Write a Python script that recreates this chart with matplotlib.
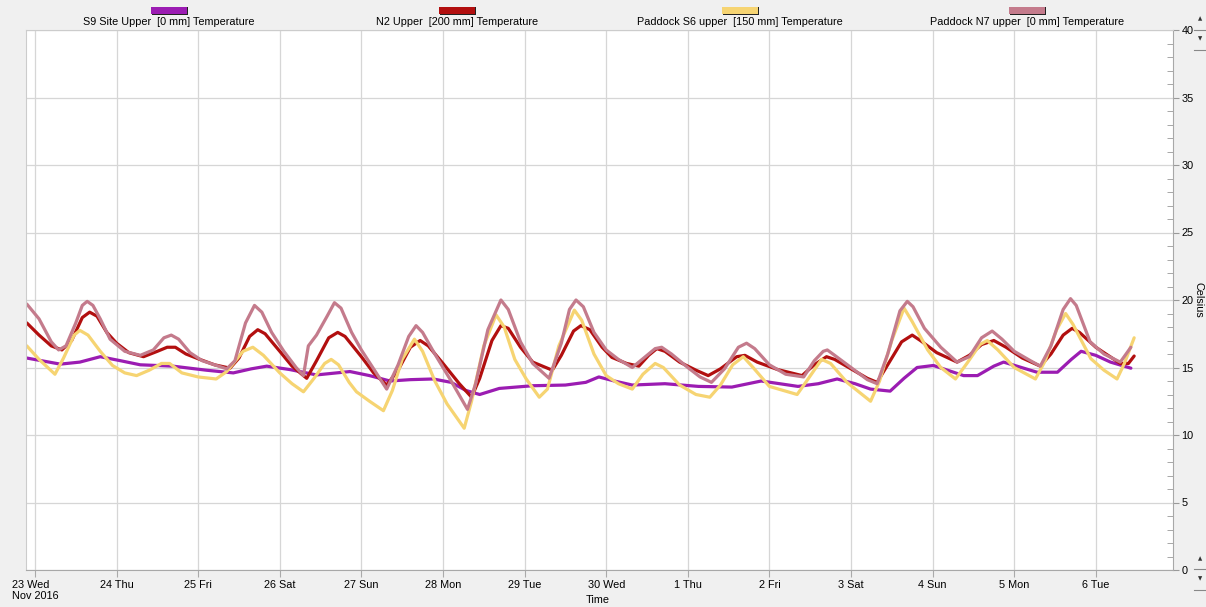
import matplotlib
matplotlib.use("Agg")
import matplotlib.pyplot as plt
from matplotlib.patches import Rectangle
from matplotlib.ticker import MultipleLocator

plt.rcParams['font.family'] = ['Liberation Sans', 'DejaVu Sans']

# days since 23 Nov 2016 00:00
s9_t = [-0.1, 0.31, 0.55, 0.80, 1.05, 1.29, 1.69, 2.10, 2.43, 2.65, 2.84, 3.12, 3.45,
        3.86, 4.1, 4.35, 4.6, 4.88, 5.1, 5.28, 5.45, 5.69, 6.10, 6.50, 6.75, 6.91,
        7.1, 7.32, 7.72, 8.13, 8.54, 8.90, 9.35, 9.6, 9.83, 10.05, 10.24, 10.48,
        10.65, 10.81, 11.01, 11.38, 11.55, 11.75, 11.87, 12.28, 12.53, 12.7, 12.82,
        13.0, 13.18, 13.43]
s9_v = [15.7, 15.25, 15.4, 15.8, 15.5, 15.2, 15.1, 14.8, 14.6, 14.9, 15.1, 14.85, 14.45,
        14.7, 14.4, 14.0, 14.1, 14.15, 13.9, 13.3, 13.0, 13.45, 13.65, 13.7, 13.9, 14.3,
        14.0, 13.7, 13.8, 13.6, 13.55, 14.0, 13.6, 13.8, 14.15, 13.8, 13.4, 13.25,
        14.2, 15.0, 15.15, 14.4, 14.4, 15.1, 15.4, 14.65, 14.65, 15.6, 16.2,
        15.9, 15.4, 14.95]

n2_t = [-0.1, 0.05, 0.2, 0.33, 0.45, 0.58, 0.67, 0.76, 0.88, 1.0, 1.15, 1.33, 1.5,
        1.62, 1.72, 1.85, 2.02, 2.2, 2.39, 2.5, 2.63, 2.73, 2.82, 3.0, 3.15, 3.33,
        3.45, 3.6, 3.71, 3.8, 4.0, 4.15, 4.31, 4.45, 4.6, 4.72, 4.82, 5.0, 5.2,
        5.35, 5.45, 5.6, 5.71, 5.8, 5.95, 6.1, 6.34, 6.45, 6.6, 6.69, 6.8, 6.95,
        7.07, 7.25, 7.40, 7.52, 7.62, 7.72, 7.9, 8.1, 8.25, 8.4, 8.6, 8.7, 8.85,
        9.1, 9.4, 9.55, 9.7, 9.8, 10.0, 10.2, 10.32, 10.45, 10.62, 10.75, 10.85,
        11.05, 11.30, 11.45, 11.6, 11.75, 11.9, 12.1, 12.32, 12.45, 12.6, 12.71,
        12.8, 13.0, 13.30, 13.4, 13.47]
n2_v = [18.3, 17.4, 16.6, 16.3, 17.0, 18.7, 19.1, 18.8, 17.6, 16.8, 16.1, 15.8, 16.2,
        16.5, 16.5, 16.0, 15.6, 15.2, 14.95, 15.7, 17.3, 17.8, 17.5, 16.2, 15.1, 14.2,
        15.5, 17.2, 17.6, 17.3, 15.8, 14.6, 13.7, 14.8, 16.5, 17.0, 16.6, 15.3, 13.8,
        12.8, 14.2, 17.0, 18.1, 17.9, 16.5, 15.4, 14.8, 15.9, 17.7, 18.1, 17.8, 16.5,
        15.75, 15.3, 15.1, 15.9, 16.4, 16.2, 15.4, 14.8, 14.4, 14.9, 15.8, 15.9, 15.4,
        14.85, 14.4, 15.2, 15.8, 15.6, 14.9, 14.2, 13.9, 15.2, 16.9, 17.4, 17.0,
        16.1, 15.4, 15.9, 16.7, 17.0, 16.5, 15.7, 15.1, 16.0, 17.4, 17.9,
        17.6, 16.5, 15.3, 15.3, 15.85]

s6_t = [-0.1, 0.05, 0.245, 0.35, 0.48, 0.55, 0.65, 0.8, 0.95, 1.1, 1.245, 1.4, 1.55,
        1.65, 1.8, 2.0, 2.22, 2.35, 2.55, 2.67, 2.8, 3.0, 3.15, 3.29, 3.42, 3.55,
        3.63, 3.72, 3.85, 3.94, 4.1, 4.27, 4.38, 4.5, 4.65, 4.75, 4.9, 5.05, 5.26,
        5.35, 5.5, 5.65, 5.75, 5.88, 6.02, 6.18, 6.28, 6.42, 6.61, 6.7, 6.85, 7.0,
        7.15, 7.32, 7.45, 7.60, 7.7, 7.9, 8.1, 8.27, 8.4, 8.55, 8.68, 8.8, 9.0,
        9.34, 9.48, 9.64, 9.75, 9.95, 10.24, 10.35, 10.5, 10.65, 10.75, 10.94,
        11.1, 11.28, 11.42, 11.58, 11.67, 11.8, 12.0, 12.26, 12.38, 12.52, 12.63,
        12.72, 12.94, 13.1, 13.26, 13.35, 13.47]
s6_v = [16.6, 15.6, 14.5, 15.7, 17.4, 17.75, 17.4, 16.2, 15.15, 14.6, 14.4, 14.8, 15.3,
        15.3, 14.6, 14.3, 14.15, 14.7, 16.2, 16.5, 15.9, 14.6, 13.8, 13.2, 14.2, 15.3,
        15.6, 15.2, 13.9, 13.2, 12.5, 11.8, 13.3, 15.6, 17.1, 16.2, 14.0, 12.3, 10.5,
        12.5, 16.6, 18.9, 18.0, 15.6, 14.15, 12.8, 13.4, 16.6, 19.25, 18.5, 16.0, 14.4,
        13.8, 13.4, 14.5, 15.3, 15.0, 13.7, 13.0, 12.8, 13.7, 15.2, 15.8, 15.0, 13.6,
        13.0, 14.2, 15.6, 15.3, 13.9, 12.5, 14.0, 17.0, 19.4, 18.4, 16.3,
        15.0, 14.15, 15.3, 16.7, 17.0, 16.3, 15.0, 14.15, 15.5, 17.8, 19.0,
        18.2, 15.65, 14.8, 14.15, 15.3, 17.2]

n7_t = [-0.1, 0.05, 0.2, 0.29, 0.38, 0.5, 0.58, 0.64, 0.71, 0.8, 0.92, 1.1, 1.29,
        1.45, 1.58, 1.67, 1.76, 1.9, 2.05, 2.25, 2.35, 2.45, 2.58, 2.69, 2.78, 2.9,
        3.05, 3.2, 3.29, 3.35, 3.45, 3.58, 3.67, 3.75, 3.88, 4.0, 4.15, 4.31, 4.45,
        4.58, 4.67, 4.75, 4.9, 5.1, 5.30, 5.4, 5.55, 5.71, 5.8, 5.95, 6.1, 6.30,
        6.45, 6.55, 6.63, 6.72, 6.85, 7.0, 7.15, 7.32, 7.48, 7.6, 7.68, 7.8, 8.0,
        8.15, 8.29, 8.45, 8.62, 8.72, 8.82, 9.0, 9.2, 9.42, 9.55, 9.66, 9.71, 9.8,
        10.0, 10.2, 10.32, 10.45, 10.6, 10.69, 10.76, 10.9, 11.1, 11.30, 11.45,
        11.6, 11.73, 11.85, 12.0, 12.2, 12.32, 12.45, 12.6, 12.69, 12.76, 12.93,
        13.1, 13.30, 13.43]
n7_v = [19.7, 18.6, 16.9, 16.3, 16.6, 18.3, 19.6, 19.9, 19.6, 18.6, 17.1, 16.2, 15.9,
        16.3, 17.2, 17.4, 17.1, 16.1, 15.5, 15.1, 14.9, 15.5, 18.3, 19.6, 19.1, 17.6,
        16.2, 15.0, 14.4, 16.6, 17.4, 18.8, 19.8, 19.4, 17.6, 16.3, 14.9, 13.4, 15.2,
        17.3, 18.1, 17.6, 16.0, 14.0, 11.9, 13.8, 17.8, 20.0, 19.3, 16.9, 15.3, 14.2,
        16.8, 19.3, 20.0, 19.5, 17.6, 16.3, 15.6, 15.0, 15.8, 16.4, 16.5, 16.0, 15.0,
        14.3, 13.9, 14.9, 16.5, 16.8, 16.4, 15.2, 14.5, 14.3, 15.5, 16.2, 16.3, 15.9,
        15.0, 14.1, 13.8, 16.0, 19.2, 19.9, 19.5, 17.9, 16.5, 15.4, 15.8,
        17.2, 17.7, 17.1, 16.2, 15.5, 15.1, 16.6, 19.3, 20.1, 19.6, 16.9,
        16.0, 15.4, 16.5]

day_labels = ["23 Wed\nNov 2016", "24 Thu", "25 Fri", "26 Sat", "27 Sun", "28 Mon",
              "29 Tue", "30 Wed", "1 Thu", "2 Fri", "3 Sat", "4 Sun", "5 Mon", "6 Tue"]

series_names = ["S9 Site Upper  [0 mm] Temperature",
                "N2 Upper  [200 mm] Temperature",
                "Paddock S6 upper  [150 mm] Temperature",
                "Paddock N7 upper  [0 mm] Temperature"]
colors = ["#9b1cb2", "#b20f0f", "#f6d472", "#c47b8c"]

W, H = 1206, 607
fs = 7.8
fig = plt.figure(figsize=(W / 100, H / 100), dpi=100, facecolor="#f0f0f0")


def fx(px):
    return px / W


def fy(py):
    return 1 - py / H


ax = fig.add_axes([fx(26), fy(570), fx(1173 - 26), (570 - 30) / H])
ax.set_facecolor("white")

for t, v, c in zip([s9_t, n2_t, s6_t, n7_t], [s9_v, n2_v, s6_v, n7_v], colors):
    ax.plot(t, v, color=c, lw=2.3, solid_joinstyle="round", solid_capstyle="round")

ax.set_xlim(-0.11, 13.946)
ax.set_ylim(0, 40)
ax.set_xticks(range(len(day_labels)))
ax.set_xticklabels(day_labels, fontsize=fs)
ax.get_xticklabels()[0].set_multialignment("left")
ax.yaxis.tick_right()
ax.yaxis.set_major_locator(MultipleLocator(5))
ax.yaxis.set_minor_locator(MultipleLocator(1))
ax.tick_params(axis="y", which="major", direction="out", length=4, pad=2,
               labelsize=fs, color="#999999")
ax.tick_params(axis="y", which="minor", direction="in", length=4, color="#999999")
ax.tick_params(axis="x", direction="out", length=5, pad=2, color="#aaaaaa")
ax.grid(True, which="major", color="#d6d6d6", lw=0.9)
ax.set_axisbelow(True)
for side in ["top", "left"]:
    ax.spines[side].set_color("#cccccc")
for side in ["right", "bottom"]:
    ax.spines[side].set_color("#a8a8a8")

# legend: coloured swatches above each series name
centers = [169, 457, 740, 1027]
for cx, name, c in zip(centers, series_names, colors):
    fig.add_artist(Rectangle((fx(cx - 17), fy(15)), fx(36), 8 / H,
                             transform=fig.transFigure, color="#222222", lw=0))
    fig.add_artist(Rectangle((fx(cx - 18), fy(14)), fx(36), 7 / H,
                             transform=fig.transFigure, color=c, lw=0))
    fig.text(fx(cx), fy(22), name, ha="center", va="center", fontsize=fs)

fig.text(fx(1198), fy(300), "Celsius", rotation=270, ha="center", va="center",
         fontsize=fs)
fig.text(fx(598), fy(600), "Time", ha="center", va="center", fontsize=fs)

# scroll arrows on the right edge
for y, s in [(19, "\u25b2"), (39, "\u25bc"), (559, "\u25b2"), (579, "\u25bc")]:
    fig.text(fx(1200), fy(y), s, ha="center", va="center", fontsize=4,
             color="#333333", family="DejaVu Sans")
for y in [30, 50, 569, 590]:
    fig.add_artist(plt.Line2D([fx(1194), fx(1206)], [fy(y), fy(y)],
                              transform=fig.transFigure, color="#888888", lw=0.8))

fig.savefig("out.png", dpi=100, facecolor=fig.get_facecolor())
